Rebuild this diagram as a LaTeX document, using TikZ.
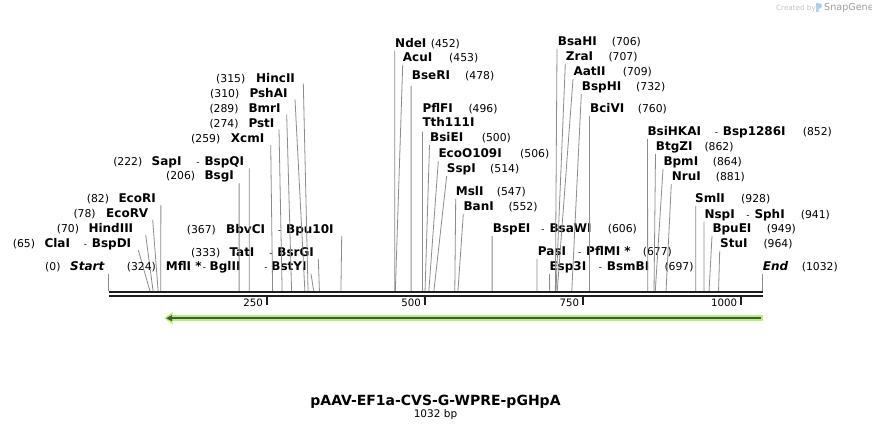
\documentclass[tikz,border=0pt]{standalone}
\usepackage{fontspec}
\setmainfont{DejaVu Sans}
\definecolor{featgreen}{RGB}{180,240,122}
\definecolor{featdark}{RGB}{74,84,66}
\definecolor{bbcol}{RGB}{30,30,30}
\definecolor{linecol}{RGB}{140,140,140}
\definecolor{credgray}{RGB}{196,196,196}
\definecolor{logoblue}{RGB}{176,206,236}
\tikzset{
  nm/.style={font=\bfseries\fontsize{12}{12}\selectfont, anchor=base west, inner sep=0pt},
  nmi/.style={font=\bfseries\itshape\fontsize{12}{12}\selectfont, anchor=base west, inner sep=0pt},
  nb/.style={font=\fontsize{10.8}{12}\selectfont, anchor=base west, inner sep=0pt},
  nbe/.style={font=\fontsize{10.8}{12}\selectfont, anchor=base east, inner sep=0pt},
  hy/.style={font=\fontsize{9}{10}\selectfont, anchor=base east, inner sep=0pt},
  cutline/.style={draw=linecol, line width=0.8pt},
  bbline/.style={draw=bbcol, line width=2pt},
  tickline/.style={draw=bbcol, line width=1.8pt},
  ticklab/.style={font=\fontsize{10.2}{12}\selectfont, anchor=base east, inner sep=0pt},
}
\newcommand\csite[4]{%
  \coordinate (t#1) at (#3,#4);
  \coordinate (b#1) at ({108.8+0.6325*#2},291);
  \draw[cutline] (t#1) -- (b#1);}
\begin{document}
\begin{tikzpicture}[x=1pt,y=-1pt]
\useasboundingbox (0,0) rectangle (872,430);
\fill[white] (0,0) rectangle (872,430);

% credit
\node[font=\fontsize{7.2}{8}\selectfont, text=credgray, anchor=base west, inner sep=0pt] (cred1) at (776,10.5) {Created by};
\fill[logoblue] (816,3) -- (820,3.5) .. controls (822.5,4) and (822.5,8) .. (820,8.5) -- (818.5,8.8) -- (818.5,12) -- (816,12) -- cycle;
\node[font=\fontsize{9.6}{10}\selectfont, text=credgray!80!black, anchor=base west, inner sep=0pt] (cred2) at (824,11) {SnapGene};

% ---------- left labels ----------
\node[nb] (p82) at (86.7,202.5) {(82)};
\node[nm] (e82) at (118.3,202.5) {EcoRI};
\csite{82}{82}{160.9}{205}

\node[nb] (p78) at (73.3,217.5) {(78)};
\node[nm] (e78) at (106,217.5) {EcoRV};
\csite{78}{78}{152.7}{220}

\node[nb] (p70) at (56.7,232.5) {(70)};
\node[nm] (e70) at (88.3,232.5) {HindIII};
\csite{70}{70}{145.7}{235}

\node[nb] (p65) at (12.7,247.5) {(65)};
\node[nm] (e65) at (44.3,247.5) {ClaI};
\node[hy] (h65) at (87.2,247.5) {-};
\node[nm] (f65) at (91.7,247.5) {BspDI};
\csite{65}{65}{138.3}{250}

\node[nb] (p0) at (45,270.5) {(0)};
\node[nmi] (e0) at (70,270.5) {Start};
\csite{0}{0}{108.8}{274}

\node[nb] (p324) at (126.7,270.7) {(324)};
\node[nm] (e324) at (165.7,270.7) {MflI *};
\node[hy] (h324) at (206.2,270.7) {-};
\node[nm] (f324) at (209.5,270.7) {BglII};
\node[hy] (i324) at (267.7,270.7) {-};
\node[nm] (g324) at (271.2,270.7) {BstYI};
\csite{324}{324}{311}{274}

\node[nb] (p333) at (191,256) {(333)};
\node[nm] (e333) at (229.3,256) {TatI};
\node[hy] (h333) at (272.7,256) {-};
\node[nm] (f333) at (277.2,256) {BsrGI};
\csite{333}{333}{318.3}{259}

\node[nb] (p367) at (186.7,233.3) {(367)};
\node[nm] (e367) at (226,233.3) {BbvCI};
\node[hy] (h367) at (281.5,233.3) {-};
\node[nm] (f367) at (286,233.3) {Bpu10I};
\csite{367}{367}{341.7}{236}

\node[nbe] (p206) at (195.3,180) {(206)};
\node[nm] (e206) at (204.3,180) {BsgI};
\csite{206}{206}{239.1}{183.3}

\node[nbe] (p222) at (142.5,166) {(222)};
\node[nm] (e222) at (151.5,166) {SapI};
\node[hy] (h222) at (199.8,166) {-};
\node[nm] (f222) at (204.3,166) {BspQI};
\csite{222}{222}{249.2}{168.3}

\node[nb] (p259) at (191,142.7) {(259)};
\node[nm] (e259) at (230.7,142.7) {XcmI};
\csite{259}{259}{270.7}{145}

\node[nb] (p274) at (209.3,127.7) {(274)};
\node[nm] (e274) at (248.3,127.7) {PstI};
\csite{274}{274}{279}{129.3}

\node[nb] (p289) at (209.3,112.7) {(289)};
\node[nm] (e289) at (248.3,112.7) {BmrI};
\csite{289}{289}{286.7}{114.3}

\node[nb] (p310) at (210,97.7) {(310)};
\node[nm] (e310) at (249.3,97.7) {PshAI};
\csite{310}{310}{295}{99.3}

\node[nb] (p315) at (216,82.5) {(315)};
\node[nm] (e315) at (256,82.5) {HincII};
\csite{315}{315}{303.3}{83.3}

% ---------- middle labels ----------
\node[nm] (e452) at (395,47.3) {NdeI};
\node[nb] (p452) at (430.7,47.3) {(452)};
\csite{452}{452}{394.7}{50.7}

\node[nm] (e453) at (402.7,61.7) {AcuI};
\node[nb] (p453) at (449,61.7) {(453)};
\csite{453}{453}{402.7}{65}

\node[nm] (e478) at (411.7,79.3) {BseRI};
\node[nb] (p478) at (465,79.3) {(478)};
\csite{478}{478}{411.1}{86}

\node[nm] (e496) at (422.3,112.7) {PflFI};
\node[nb] (p496) at (468.3,112.7) {(496)};
\node[nm] (f496) at (422.3,126.7) {Tth111I};
\csite{496}{496}{422.5}{131.7}

\node[nm] (e500) at (430,141.7) {BsiEI};
\node[nb] (p500) at (481.7,141.7) {(500)};
\csite{500}{500}{429.5}{145}

\node[nm] (e506) at (438.3,157.8) {EcoO109I};
\node[nb] (p506) at (520,157.8) {(506)};
\csite{506}{506}{438.3}{161}

\node[nm] (e514) at (446.7,172.7) {SspI};
\node[nb] (p514) at (490,172.7) {(514)};
\csite{514}{514}{446.7}{176}

\node[nm] (e547) at (455.7,195.7) {MslI};
\node[nb] (p547) at (496.7,195.7) {(547)};
\csite{547}{547}{455.7}{199}

\node[nm] (e552) at (463.3,210.7) {BanI};
\node[nb] (p552) at (508.3,210.7) {(552)};
\csite{552}{552}{463.3}{214}

\node[nm] (e606) at (492.7,232.3) {BspEI};
\node[hy] (h606) at (544.8,232.3) {-};
\node[nm] (f606) at (549.3,232.3) {BsaWI};
\node[nb] (p606) at (607.7,232.3) {(606)};
\csite{606}{606}{492.1}{236}

\node[nm] (e677) at (537.7,255.7) {PasI};
\node[hy] (h677) at (581.5,255.7) {-};
\node[nm] (f677) at (586,255.7) {PflMI *};
\node[nb] (p677) at (642.7,255.7) {(677)};
\csite{677}{677}{537}{259}

\node[nm] (e697) at (549.3,270.7) {Esp3I};
\node[hy] (h697) at (602.2,270.7) {-};
\node[nm] (f697) at (606.7,270.7) {BsmBI};
\node[nb] (p697) at (664.3,270.7) {(697)};
\csite{697}{697}{549.5}{274}

% ---------- upper right group ----------
\node[nm] (e706) at (557.7,45.7) {BsaHI};
\node[nb] (p706) at (611.7,45.7) {(706)};
\csite{706}{706}{557}{49}

\node[nm] (e707) at (565.7,60.7) {ZraI};
\node[nb] (p707) at (608.3,60.7) {(707)};
\csite{707}{707}{565.3}{64}

\node[nm] (e709) at (573.3,75.7) {AatII};
\node[nb] (p709) at (622.7,75.7) {(709)};
\csite{709}{709}{573}{79}

\node[nm] (e732) at (581.7,90.7) {BspHI};
\node[nb] (p732) at (636,90.7) {(732)};
\csite{732}{732}{581.3}{94}

\node[nm] (e760) at (590,112.7) {BciVI};
\node[nb] (p760) at (637.7,112.7) {(760)};
\csite{760}{760}{589.5}{116}

% ---------- right group ----------
\node[nm] (e852) at (647.3,136) {BsiHKAI};
\node[hy] (h852) at (718.2,136) {-};
\node[nm] (f852) at (722.7,136) {Bsp1286I};
\node[nb] (p852) at (802.7,136) {(852)};
\csite{852}{852}{647.5}{139}

\node[nm] (e862) at (655.7,151) {BtgZI};
\node[nb] (p862) at (704.3,151) {(862)};
\csite{862}{862}{655.5}{154}

\node[nm] (e864) at (663.3,165.7) {BpmI};
\node[nb] (p864) at (712.7,165.7) {(864)};
\csite{864}{864}{663}{169}

\node[nm] (e881) at (671.7,180.7) {NruI};
\node[nb] (p881) at (715.7,180.7) {(881)};
\csite{881}{881}{671.3}{184}

\node[nm] (e928) at (695,202.7) {SmlI};
\node[nb] (p928) at (741,202.7) {(928)};
\csite{928}{928}{695.8}{206}

\node[nm] (e941) at (704.3,218.3) {NspI};
\node[hy] (h941) at (749.8,218.3) {-};
\node[nm] (f941) at (754.3,218.3) {SphI};
\node[nb] (p941) at (800.7,218.3) {(941)};
\csite{941}{941}{704}{222}

\node[nm] (e949) at (712.3,232.7) {BpuEI};
\node[nb] (p949) at (766.7,232.7) {(949)};
\csite{949}{949}{712}{236}

\node[nm] (e964) at (720,247.7) {StuI};
\node[nb] (p964) at (763.3,247.7) {(964)};
\csite{964}{964}{719.7}{251}

\node[nmi] (e1032) at (762.7,270) {End};
\node[nb] (p1032) at (801.7,270) {(1032)};
\coordinate (t1032) at (762.2,274);
\coordinate (b1032) at (762.2,291);
\draw[cutline] (t1032) -- (b1032);

% ---------- backbone ----------
\coordinate (bbL1) at (108.5,292.3);
\coordinate (bbR1) at (763,292.3);
\coordinate (bbL2) at (108.5,296.3);
\coordinate (bbR2) at (763,296.3);
\draw[bbline] (bbL1) -- (bbR1);
\draw[bbline] (bbL2) -- (bbR2);

% ticks
\foreach \v/\xx in {250/266.9, 500/424.9, 750/583.0, 1000/741.0}{
  \draw[tickline] (\xx,297.3) -- (\xx,304.8);
  \node[ticklab] (tick\v) at (\xx-3.8,306.8) {\v};
}

% ---------- feature arrow ----------
\fill[featgreen] (171,315) rectangle (763,321.3);
\fill[featgreen] (164,318.2) -- (172.5,312.2) -- (172.5,324.2) -- cycle;
\draw[featdark, line width=2pt] (170,318.2) -- (761,318.2);
\fill[featdark] (166.3,318.2) -- (172,315) -- (172,321.4) -- cycle;

% ---------- title ----------
\node[font=\bfseries\fontsize{14}{14}\selectfont, anchor=base, inner sep=0pt] (title) at (435.5,405) {pAAV-EF1a-CVS-G-WPRE-pGHpA};
\node[font=\fontsize{10.5}{12}\selectfont, anchor=base, inner sep=0pt] (size) at (435.5,417) {1032 bp};
\end{tikzpicture}
\end{document}
